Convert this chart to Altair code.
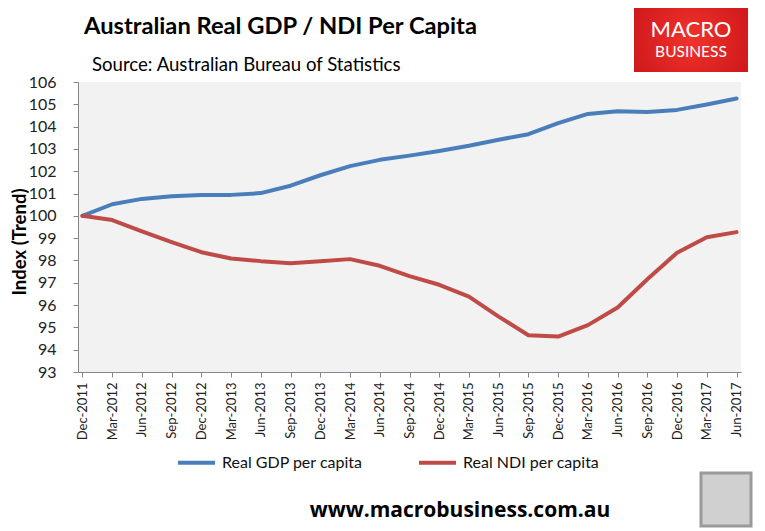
import altair as alt
import pandas as pd

quarters = ["Dec-2011", "Mar-2012", "Jun-2012", "Sep-2012", "Dec-2012", "Mar-2013",
            "Jun-2013", "Sep-2013", "Dec-2013", "Mar-2014", "Jun-2014", "Sep-2014",
            "Dec-2014", "Mar-2015", "Jun-2015", "Sep-2015", "Dec-2015", "Mar-2016",
            "Jun-2016", "Sep-2016", "Dec-2016", "Mar-2017", "Jun-2017"]
gdp = [100.0, 100.52, 100.76, 100.88, 100.93, 100.94, 101.02, 101.35, 101.82, 102.23,
       102.51, 102.70, 102.91, 103.14, 103.41, 103.66, 104.16, 104.57, 104.69, 104.65,
       104.75, 104.99, 105.26]
ndi = [100.0, 99.81, 99.30, 98.82, 98.37, 98.09, 97.97, 97.88, 97.97, 98.06,
       97.76, 97.30, 96.91, 96.38, 95.48, 94.65, 94.59, 95.10, 95.89, 97.16,
       98.35, 99.04, 99.27]
series_names = ["Real GDP per capita", "Real NDI per capita"]
series_colors = ["#4A7EBB", "#BE4B48"]
y_ticks = list(range(93, 107))

title_text = "Australian Real GDP / NDI Per Capita"
source_text = "Source: Australian Bureau of Statistics"
y_title = "Index (Trend)"
website = "www.macrobusiness.com.au"

FONT = "Lato"

rows = []
for q, g, n in zip(quarters, gdp, ndi):
    rows.append({"quarter": q, "series": series_names[0], "value": g})
    rows.append({"quarter": q, "series": series_names[1], "value": n})
df = pd.DataFrame(rows)

W, H = 663, 290

lines = alt.Chart(df).mark_line(strokeWidth=4, strokeCap="round", strokeJoin="round").encode(
    x=alt.X("quarter:N", sort=quarters, title=None,
            scale=alt.Scale(type="point", padding=0.15),
            axis=alt.Axis(labelAngle=-90, labelFontSize=13, labelFont=FONT, labelColor="#222222",
                          labelPadding=5, tickSize=5, domainColor="#868686", tickColor="#868686",
                          grid=False)),
    y=alt.Y("value:Q", title=None,
            scale=alt.Scale(domain=[93, 106], nice=False, zero=False),
            axis=alt.Axis(values=y_ticks, format="d", labelFontSize=16, labelFont=FONT,
                          labelColor="#222222", labelPadding=17, tickSize=5,
                          domainColor="#868686", tickColor="#868686", grid=False)),
    color=alt.Color("series:N", sort=series_names,
                    scale=alt.Scale(domain=series_names, range=series_colors),
                    legend=alt.Legend(title=None, orient="none", legendX=98, legendY=360,
                                      direction="horizontal", symbolType="stroke",
                                      symbolSize=1369, symbolStrokeWidth=4,
                                      labelFontSize=16, labelFont=FONT, labelColor="#111111",
                                      labelOffset=5, columnPadding=48, padding=0)),
)

def text_layer(txt, x, y, size, weight="normal", color="#000000", align="left", angle=0,
               baseline="alphabetic", font=FONT):
    return alt.Chart(pd.DataFrame({"t": [txt]})).mark_text(
        font=font, fontSize=size, fontWeight=weight, color=color, align=align,
        baseline=baseline, angle=angle
    ).encode(x=alt.value(x), y=alt.value(y), text="t:N")

title = text_layer(title_text, 6, -48, 23.7, weight="bold")
source = text_layer(source_text, 14, -11, 18.6)
ytitle = text_layer(y_title, -58, 160, 18.5, weight="bold", align="center", angle=270, baseline="middle")
site = text_layer(website, 382, 435, 21, weight="bold", align="center", font="Open Sans")

logo_rect = alt.Chart(pd.DataFrame({"a": [1]})).mark_rect(
    fill={"gradient": "radial", "x1": 0.5, "y1": 0.5, "x2": 0.5, "y2": 0.5, "r1": 0, "r2": 0.75,
          "stops": [{"offset": 0, "color": "#F0332B"}, {"offset": 1, "color": "#C50F16"}]}
).encode(x=alt.value(556), x2=alt.value(670), y=alt.value(-76), y2=alt.value(-10))
logo_t1 = text_layer("MACRO", 613, -45, 22, color="#FFFFFF", align="center")
logo_t2 = text_layer("BUSINESS", 613, -25, 15.5, color="#FFFFFF", align="center")

fox = alt.Chart(pd.DataFrame({"a": [1]})).mark_rect(
    fill="#D0D0D0", stroke="#9A9A9A", strokeWidth=3
).encode(x=alt.value(623), x2=alt.value(673), y=alt.value(391), y2=alt.value(444))

chart = alt.layer(lines, title, source, ytitle, site, logo_rect, logo_t1, logo_t2, fox).properties(
    width=W, height=H,
    autosize=alt.AutoSizeParams(type="none"),
    padding={"left": 70, "top": 74, "right": 16, "bottom": 159},
    background="#FFFFFF",
).configure_view(fill="#F2F2F2", stroke=None)

chart.save("out.html", embed_options={"renderer": "svg", "actions": False})
